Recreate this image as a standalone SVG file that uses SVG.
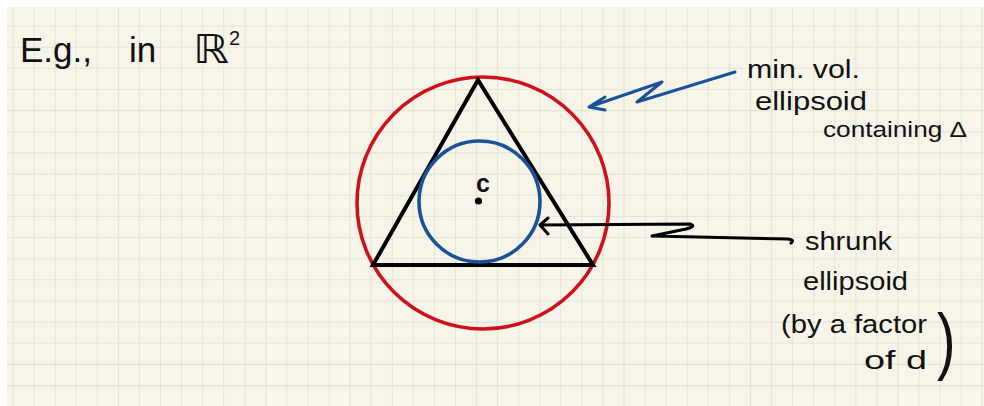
<svg xmlns="http://www.w3.org/2000/svg" width="984" height="406" viewBox="0 0 984 406">
<style>
.grid{stroke:#e7e4d7;stroke-width:1.1;fill:none}
.hand{font-family:"Liberation Sans","DejaVu Sans",sans-serif;fill:#111}
.ink{fill:none;stroke-linecap:round;stroke-linejoin:round}
</style>
<rect x="0" y="0" width="984" height="406" fill="#ffffff"/>
<rect x="7" y="7" width="977" height="399" fill="#f7f5ea"/>
<path class="grid" d="M13 7V406M34.1 7V406M55.1 7V406M76.2 7V406M97.3 7V406M118.4 7V406M139.4 7V406M160.5 7V406M181.6 7V406M202.6 7V406M223.7 7V406M244.8 7V406M265.8 7V406M286.9 7V406M308 7V406M329.1 7V406M350.1 7V406M371.2 7V406M392.3 7V406M413.3 7V406M434.4 7V406M455.5 7V406M476.5 7V406M497.6 7V406M518.7 7V406M539.8 7V406M560.8 7V406M581.9 7V406M603 7V406M624 7V406M645.1 7V406M666.2 7V406M687.2 7V406M708.3 7V406M729.4 7V406M750.5 7V406M771.5 7V406M792.6 7V406M813.7 7V406M834.7 7V406M855.8 7V406M876.9 7V406M897.9 7V406M919 7V406M940.1 7V406M961.2 7V406M982.2 7V406"/>
<path class="grid" d="M7 26H984M7 47.2H984M7 68.3H984M7 89.5H984M7 110.6H984M7 131.8H984M7 152.9H984M7 174.1H984M7 195.2H984M7 216.4H984M7 237.5H984M7 258.7H984M7 279.8H984M7 301H984M7 322.1H984M7 343.3H984M7 364.4H984M7 385.6H984"/>

<g id="title">
<text class="hand" x="20" y="62" font-size="35">E.g.,</text>
<text class="hand" x="129" y="62" font-size="35">in</text>
<text class="hand" x="193" y="63" font-size="40" font-family="DejaVu Sans" textLength="36" lengthAdjust="spacingAndGlyphs">ℝ</text>
<text class="hand" x="229" y="45" font-size="20">2</text>
</g>

<g id="min-vol-ellipsoid">
<circle cx="483" cy="203" r="126" fill="none" stroke="#d0101a" stroke-width="3.6"/>
</g>
<g id="triangle">
<polygon points="478,80 593,265 373,265" fill="none" stroke="#000" stroke-width="4" stroke-linejoin="miter"/>
</g>
<g id="shrunk-ellipsoid">
<circle cx="479.5" cy="201.5" r="60.5" fill="none" stroke="#1a5199" stroke-width="3.6"/>
</g>
<g id="center-c">
<circle cx="478.5" cy="201" r="3.6" fill="#000"/>
<text class="hand" x="476" y="192" font-size="25" font-weight="bold">c</text>
</g>

<g id="label-min-vol">
<text class="hand" x="747" y="78" font-size="26" textLength="113" lengthAdjust="spacingAndGlyphs">min. vol.</text>
<text class="hand" x="755" y="110" font-size="26" textLength="112" lengthAdjust="spacingAndGlyphs">ellipsoid</text>
<text class="hand" x="823" y="137" font-size="22" textLength="144" lengthAdjust="spacingAndGlyphs">containing Δ</text>
</g>

<g id="label-shrunk">
<text class="hand" x="805" y="250" font-size="25" textLength="87" lengthAdjust="spacingAndGlyphs">shrunk</text>
<text class="hand" x="803" y="290" font-size="26" textLength="105" lengthAdjust="spacingAndGlyphs">ellipsoid</text>
<text class="hand" x="781" y="333" font-size="25" textLength="146" lengthAdjust="spacingAndGlyphs">(by a factor</text>
<text class="hand" x="864" y="369" font-size="26" textLength="63" lengthAdjust="spacingAndGlyphs">of d</text>
<text class="hand" x="937" y="366" font-size="74" transform="translate(937 0) scale(0.75 1) translate(-937 0)">)</text>
</g>

<g id="connectors">
<path class="ink" stroke="#1a5199" stroke-width="3" d="M735 72 L637 102 L662 82 L589 107 M605 97 L589 107 L605 110"/>
<path class="ink" stroke="#000" stroke-width="3" d="M540 225 L690 224 Q697 226 686 229 L652 236 L788 239 Q795 240 791 243 M548 218 L540 225 L548 234"/>
</g>
</svg>
